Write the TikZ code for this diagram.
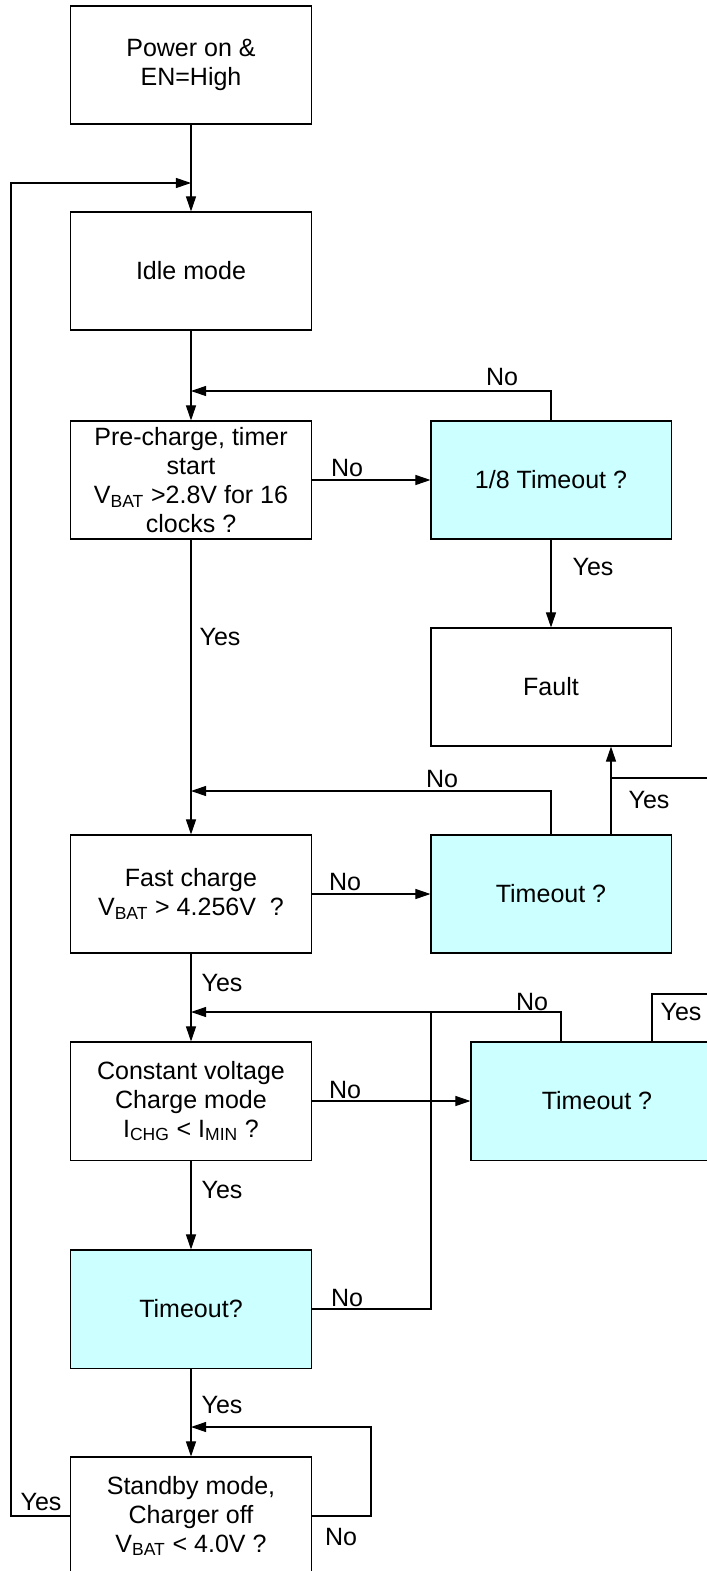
\documentclass[tikz,border=0pt]{standalone}
\usepackage{fontspec}
\setmainfont{Liberation Sans}
\usepackage{xcolor}
\usetikzlibrary{arrows.meta,positioning,calc}
\definecolor{boxcyan}{HTML}{CCFFFF}

\begin{document}
\begin{tikzpicture}[x=0.025cm, y=-0.025cm,
  every node/.style={font=\fontsize{17.8pt}{20.6pt}\selectfont},
  flowbox/.style={draw, line width=0.75pt, minimum width=6cm, minimum height=2.95cm, align=center, inner sep=1pt},
  timebox/.style={flowbox, fill=boxcyan},
  flow/.style={line width=0.75pt, -{Triangle[length=0.375cm, width=0.25cm]}},
  wire/.style={line width=0.75pt},
  lbl/.style={inner sep=0pt}]
  \useasboundingbox (0,0) rectangle (707,1571);
  \clip (0,0) rectangle (707,1571);

  % boxes
  \node[flowbox] (power) at (191,65) {Power on \&\\EN=High};
  \node[flowbox] (idle) at (191,271) {Idle mode};
  \node[flowbox] (precharge) at (191,480) {Pre-charge, timer\\start\\V\textsubscript{BAT} >2.8V for 16\\clocks ?};
  \node[timebox] (tpre) at (551,480) {1/8 Timeout ?};
  \node[flowbox] (fault) at (551,687) {Fault};
  \node[flowbox] (fast) at (191,894) {Fast charge\\V\textsubscript{BAT} > 4.256V\ \ ?};
  \node[timebox] (tfast) at (551,894) {Timeout ?};
  \node[flowbox] (cv) at (191,1101) {Constant voltage\\Charge mode\\I\textsubscript{CHG} < I\textsubscript{MIN} ?};
  \node[timebox, minimum width=6.3cm] (tcv) at (597,1101) {Timeout ?};
  \node[timebox] (tout) at (191,1309) {Timeout?};
  \node[flowbox] (standby) at (191,1516) {Standby mode,\\Charger off\\V\textsubscript{BAT} < 4.0V ?};

  % joints
  \coordinate (jidle) at (191,183);
  \coordinate (jpre) at (191,391);
  \coordinate (jfast) at (191,791);
  \coordinate (jcv) at (191,1012);
  \coordinate (jstby) at (191,1427);
  \coordinate (loopl) at (11,183);
  \coordinate (yesx) at (611,778);
  \coordinate (cvnox) at (561,1012);
  \coordinate (toutr) at (431,1012);
  \coordinate (stbyr) at (371,1427);
  \coordinate (cvyes) at (652,994);
  \coordinate (offr) at (740,778);

  % connectors
  \draw[flow] (power) -- (idle);
  \draw[flow] (standby.west) -| (loopl) -- (jidle);
  \draw[flow] (idle) -- (precharge);
  \draw[flow] (tpre.north) |- (jpre);
  \draw[flow] (precharge) -- (tpre);
  \draw[flow] (tpre) -- (fault);
  \draw[flow] (precharge) -- (fast);
  \draw[flow] (tfast.north) |- (jfast);
  \draw[flow] (fast) -- (tfast);
  \draw[flow] (yesx |- tfast.north) -- (yesx |- fault.south);
  \draw[wire] (cvyes |- tcv.north) -- (cvyes) -| (offr) -- (yesx);
  \draw[flow] (fast) -- (cv);
  \draw[flow] (cvnox |- tcv.north) -- (cvnox) -- (jcv);
  \draw[flow] (cv) -- (tcv);
  \draw[wire] (tout.east) -| (toutr);
  \draw[flow] (cv) -- (tout);
  \draw[flow] (tout) -- (standby);
  \draw[flow] (standby.east) -| (stbyr) -- (jstby);

  % labels
  \node[lbl] (l1) at (41,1502) {Yes};
  \node[lbl] (l2) at (502,377) {No};
  \node[lbl] (l3) at (347,468) {No};
  \node[lbl] (l4) at (593,567) {Yes};
  \node[lbl] (l5) at (220,637) {Yes};
  \node[lbl] (l6) at (442,779) {No};
  \node[lbl] (l7) at (345,882) {No};
  \node[lbl] (l8) at (649,800) {Yes};
  \node[lbl] (l9) at (681,1012) {Yes};
  \node[lbl] (l10) at (222,983) {Yes};
  \node[lbl] (l11) at (532,1002) {No};
  \node[lbl] (l12) at (345,1090) {No};
  \node[lbl] (l13) at (347,1298) {No};
  \node[lbl] (l14) at (222,1190) {Yes};
  \node[lbl] (l15) at (222,1405) {Yes};
  \node[lbl] (l16) at (341,1537) {No};
\end{tikzpicture}
\end{document}
